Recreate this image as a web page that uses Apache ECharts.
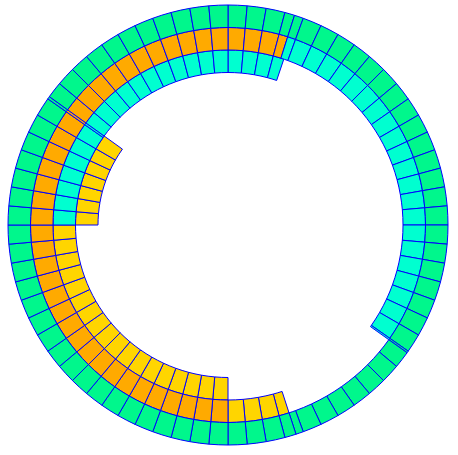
<!DOCTYPE html>
<html>
<head>
<meta charset="utf-8">
<script src="https://cdn.jsdelivr.net/npm/echarts@6/dist/echarts.min.js"></script>
<style>html,body{margin:0;padding:0;background:#fff}#c{width:458px;height:455px}</style>
</head>
<body>
<div id="c"></div>
<script>
// Rings, inner to outer
const rings = ['A', 'B', 'C', 'D'];
// Angle measured clockwise from 12 o'clock, in degrees; runs of [colour key, segment widths]
const ringA = [
  ['none',   [270]],
  ['yellow', [5, 5, 5, 5, 5, 5, 5.7]],
  ['none',   [54.3]]
];
const ringB = [
  ['cyan',   [5, 5, 5, 3.6]],
  ['none',   [161.4]],
  ['yellow', [5, 5, 5, 5, 5, 5, 5, 5, 5, 5, 5, 5, 5, 5, 5, 5, 5, 5]],
  ['cyan',   [5, 5, 5, 5, 5, 5, 5, 0.7, 4.3, 5, 5, 5, 5, 5, 5, 5, 5, 5, 5]]
];
const ringC = [
  ['orange', [5, 5, 5, 2.6]],
  ['cyan',   [2.4, 5, 5, 5, 5, 5, 5, 5, 5, 5, 5, 5, 5, 5, 5, 5, 5, 5, 5, 5, 5, 5, 0.5]],
  ['none',   [36.5]],
  ['yellow', [3, 5, 5, 5]],
  ['orange', [5, 5, 5, 5, 5, 5, 5, 5, 5, 5, 5, 5, 5, 5, 5, 5, 5, 5, 5, 5, 5, 5, 5, 5, 5, 0.7, 4.3,
              5, 5, 5, 5, 5, 5, 5, 5, 5, 5]]
];
const ringD = [
  ['green',  [5, 5, 5, 2.6, 2.4,
              5, 5, 5, 5, 5, 5, 5, 5, 5, 5, 5, 5, 5, 5, 5, 5, 5, 5, 5, 5, 5, 0.5, 4.5,
              5, 5, 5, 5, 5, 5, 2, 3,
              5, 5, 5, 5, 5, 5, 5, 5, 5, 5, 5, 5, 5, 5, 5, 5, 5, 5, 5, 5, 5, 5, 5, 5, 5, 5, 5, 5, 0.7, 4.3,
              5, 5, 5, 5, 5, 5, 5, 5, 5, 5]]
];
const palette = {
  green: '#00f78c',
  cyan: '#00ffd0',
  orange: '#ffaa00',
  yellow: '#ffd500',
  none: 'rgba(0,0,0,0)'
};

function flatten(runs) {
  const out = [];
  runs.forEach(([key, widths]) => widths.forEach(w => out.push({ key, w })));
  return out;
}
const ringSegs = [ringA, ringB, ringC, ringD].map(flatten);
const maxLen = Math.max(...ringSegs.map(s => s.length));
const series = [];
for (let i = 0; i < maxLen; i++) {
  series.push({
    type: 'bar',
    coordinateSystem: 'polar',
    stack: 'all',
    barCategoryGap: '0%',
    silent: true,
    data: ringSegs.map(segs => {
      const s = segs[i];
      if (!s) return '-';
      const empty = s.key === 'none';
      return {
        value: s.w,
        itemStyle: {
          color: palette[s.key],
          borderColor: empty ? 'rgba(0,0,0,0)' : '#0000ff',
          borderWidth: empty ? 0 : 1
        }
      };
    })
  });
}

const chart = echarts.init(document.getElementById('c'));
chart.setOption({
  animation: false,
  polar: { center: [228, 225], radius: [130, 220] },
  angleAxis: { type: 'value', min: 0, max: 360, startAngle: 90, clockwise: true, show: false },
  radiusAxis: { type: 'category', data: rings, show: false },
  series: series
});
</script>
</body>
</html>
